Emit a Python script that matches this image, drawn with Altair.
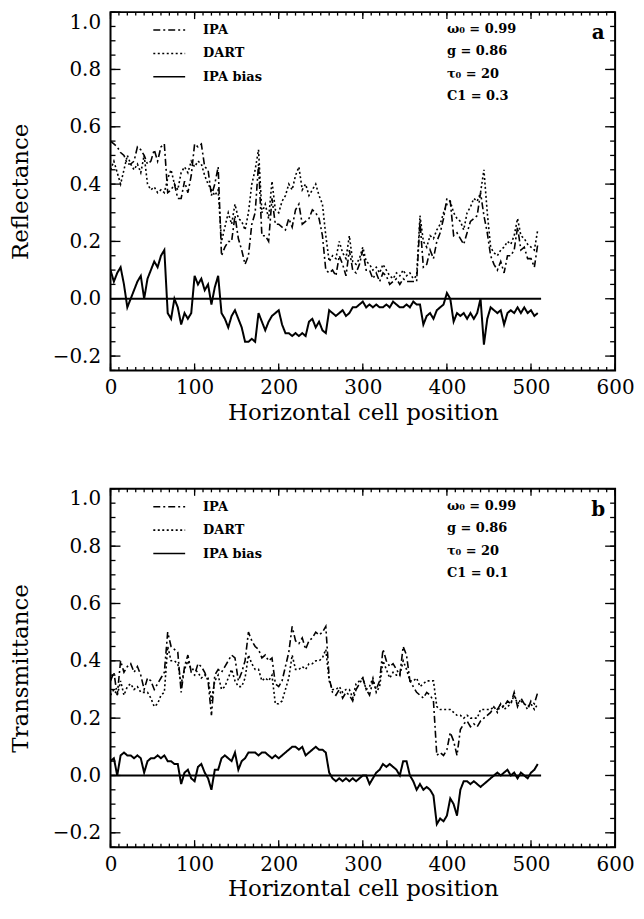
import altair as alt
import pandas as pd

# ---------------- data (every 4th cell) ----------------
CELLS = list(range(0, 512, 4))

REFL_IPA = [
    0.55, 0.54, 0.53, 0.51, 0.50, 0.47, 0.47, 0.48, 0.53, 0.52, 0.50, 0.47, 0.48, 0.52, 0.48, 0.53,
    0.54, 0.37, 0.38, 0.40, 0.35, 0.35, 0.41, 0.37, 0.43, 0.54, 0.53, 0.54, 0.46, 0.45, 0.36, 0.40,
    0.46, 0.15, 0.18, 0.20, 0.20, 0.29, 0.21, 0.17, 0.12, 0.15, 0.26, 0.30, 0.47, 0.22, 0.22, 0.20,
    0.35, 0.26, 0.26, 0.25, 0.24, 0.28, 0.25, 0.31, 0.33, 0.26, 0.27, 0.28, 0.31, 0.30, 0.28, 0.22,
    0.10, 0.09, 0.10, 0.08, 0.15, 0.12, 0.08, 0.17, 0.10, 0.09, 0.12, 0.17, 0.10, 0.10, 0.07, 0.09,
    0.06, 0.09, 0.08, 0.05, 0.06, 0.07, 0.05, 0.07, 0.06, 0.06, 0.06, 0.06, 0.27, 0.11, 0.12, 0.17,
    0.14, 0.20, 0.23, 0.28, 0.35, 0.34, 0.22, 0.23, 0.21, 0.19, 0.23, 0.27, 0.28, 0.29, 0.37, 0.29,
    0.23, 0.15, 0.12, 0.10, 0.13, 0.09, 0.15, 0.15, 0.17, 0.25, 0.17, 0.18, 0.14, 0.14, 0.11, 0.19,
]
REFL_DART = [
    0.45, 0.48, 0.44, 0.40, 0.45, 0.50, 0.47, 0.45, 0.47, 0.44, 0.50, 0.40, 0.38, 0.39, 0.37, 0.38,
    0.37, 0.42, 0.45, 0.40, 0.38, 0.44, 0.46, 0.44, 0.48, 0.46, 0.48, 0.47, 0.43, 0.40, 0.38, 0.36,
    0.38, 0.20, 0.25, 0.30, 0.26, 0.33, 0.28, 0.27, 0.24, 0.30, 0.40, 0.45, 0.52, 0.30, 0.33, 0.28,
    0.41, 0.31, 0.30, 0.34, 0.36, 0.40, 0.38, 0.43, 0.46, 0.38, 0.40, 0.36, 0.38, 0.40, 0.36, 0.33,
    0.22, 0.13, 0.15, 0.14, 0.20, 0.16, 0.14, 0.22, 0.13, 0.12, 0.14, 0.18, 0.13, 0.12, 0.10, 0.11,
    0.09, 0.12, 0.10, 0.08, 0.07, 0.09, 0.08, 0.10, 0.08, 0.09, 0.07, 0.08, 0.29, 0.20, 0.18, 0.22,
    0.21, 0.24, 0.26, 0.30, 0.33, 0.34, 0.30, 0.28, 0.27, 0.24, 0.30, 0.32, 0.35, 0.34, 0.37, 0.45,
    0.30, 0.18, 0.16, 0.15, 0.17, 0.18, 0.20, 0.19, 0.22, 0.28, 0.22, 0.21, 0.19, 0.18, 0.17, 0.24,
]
REFL_BIAS = [
    0.10, 0.06, 0.09, 0.11, 0.05, -0.03, 0.00, 0.03, 0.06, 0.08, 0.00, 0.07, 0.10, 0.13, 0.11, 0.15,
    0.17, -0.05, -0.07, 0.00, -0.03, -0.09, -0.05, -0.07, -0.05, 0.08, 0.05, 0.07, 0.03, 0.05, -0.02, 0.04,
    0.08, -0.05, -0.07, -0.10, -0.06, -0.04, -0.07, -0.10, -0.15, -0.15, -0.14, -0.15, -0.05, -0.08, -0.11, -0.08,
    -0.06, -0.05, -0.04, -0.09, -0.12, -0.12, -0.13, -0.12, -0.13, -0.12, -0.13, -0.08, -0.07, -0.10, -0.08, -0.11,
    -0.12, -0.04, -0.05, -0.06, -0.05, -0.04, -0.06, -0.05, -0.03, -0.03, -0.02, -0.01, -0.03, -0.02, -0.03, -0.02,
    -0.03, -0.03, -0.02, -0.03, -0.01, -0.02, -0.03, -0.03, -0.02, -0.03, -0.01, -0.02, -0.02, -0.09, -0.06, -0.05,
    -0.07, -0.04, -0.03, -0.02, 0.02, 0.00, -0.08, -0.05, -0.06, -0.05, -0.07, -0.05, -0.07, -0.05, 0.00, -0.16,
    -0.07, -0.03, -0.04, -0.05, -0.04, -0.09, -0.05, -0.04, -0.05, -0.03, -0.05, -0.03, -0.05, -0.04, -0.06, -0.05,
]

TRAN_IPA = [
    0.33, 0.36, 0.28, 0.40, 0.36, 0.38, 0.39, 0.36, 0.38, 0.35, 0.30, 0.34, 0.33, 0.30, 0.32, 0.34,
    0.36, 0.50, 0.45, 0.44, 0.43, 0.29, 0.38, 0.42, 0.36, 0.35, 0.39, 0.38, 0.36, 0.33, 0.21, 0.35,
    0.37, 0.36, 0.38, 0.40, 0.42, 0.41, 0.33, 0.36, 0.40, 0.50, 0.47, 0.45, 0.44, 0.41, 0.42, 0.40,
    0.41, 0.32, 0.31, 0.33, 0.38, 0.43, 0.52, 0.47, 0.46, 0.48, 0.44, 0.47, 0.48, 0.50, 0.49, 0.50,
    0.52, 0.34, 0.29, 0.28, 0.30, 0.27, 0.29, 0.28, 0.26, 0.30, 0.32, 0.34, 0.30, 0.28, 0.33, 0.30,
    0.33, 0.44, 0.40, 0.38, 0.39, 0.37, 0.35, 0.45, 0.42, 0.33, 0.31, 0.29, 0.28, 0.27, 0.29, 0.28,
    0.26, 0.07, 0.08, 0.07, 0.09, 0.15, 0.12, 0.07, 0.16, 0.18, 0.19, 0.17, 0.18, 0.17, 0.19, 0.20,
    0.21, 0.22, 0.24, 0.23, 0.25, 0.24, 0.26, 0.25, 0.29, 0.24, 0.27, 0.25, 0.23, 0.26, 0.25, 0.29,
]
TRAN_DART = [
    0.28, 0.30, 0.28, 0.33, 0.28, 0.31, 0.32, 0.30, 0.31, 0.29, 0.29, 0.29, 0.27, 0.24, 0.25, 0.28,
    0.29, 0.45, 0.40, 0.40, 0.39, 0.32, 0.37, 0.40, 0.37, 0.37, 0.36, 0.34, 0.35, 0.34, 0.26, 0.33,
    0.35, 0.30, 0.31, 0.34, 0.37, 0.33, 0.31, 0.31, 0.34, 0.42, 0.39, 0.37, 0.37, 0.33, 0.34, 0.33,
    0.35, 0.25, 0.25, 0.26, 0.30, 0.34, 0.42, 0.37, 0.37, 0.38, 0.37, 0.39, 0.39, 0.40, 0.40, 0.41,
    0.44, 0.33, 0.30, 0.30, 0.31, 0.29, 0.30, 0.30, 0.27, 0.32, 0.33, 0.34, 0.30, 0.31, 0.34, 0.29,
    0.31, 0.40, 0.37, 0.34, 0.36, 0.35, 0.35, 0.40, 0.37, 0.33, 0.33, 0.34, 0.31, 0.32, 0.33, 0.33,
    0.33, 0.24, 0.23, 0.23, 0.23, 0.23, 0.22, 0.21, 0.21, 0.20, 0.21, 0.20, 0.20, 0.20, 0.23, 0.23,
    0.23, 0.23, 0.24, 0.22, 0.25, 0.23, 0.24, 0.25, 0.28, 0.25, 0.26, 0.25, 0.24, 0.25, 0.23, 0.25,
]
TRAN_BIAS = [
    0.05, 0.06, 0.00, 0.07, 0.08, 0.07, 0.07, 0.06, 0.07, 0.06, 0.01, 0.05, 0.06, 0.06, 0.07, 0.06,
    0.07, 0.05, 0.05, 0.04, 0.04, -0.03, 0.01, 0.02, -0.01, -0.02, 0.03, 0.04, 0.01, -0.01, -0.05, 0.02,
    0.02, 0.06, 0.07, 0.06, 0.05, 0.08, 0.02, 0.05, 0.06, 0.08, 0.08, 0.08, 0.07, 0.08, 0.08, 0.07,
    0.06, 0.07, 0.06, 0.07, 0.08, 0.09, 0.10, 0.10, 0.09, 0.10, 0.07, 0.08, 0.09, 0.10, 0.09, 0.09,
    0.08, 0.01, -0.01, -0.02, -0.01, -0.02, -0.01, -0.02, -0.01, -0.02, -0.01, 0.00, 0.00, -0.03, -0.01, 0.01,
    0.02, 0.04, 0.03, 0.04, 0.03, 0.02, 0.00, 0.05, 0.05, 0.00, -0.02, -0.05, -0.03, -0.05, -0.04, -0.05,
    -0.07, -0.17, -0.15, -0.16, -0.14, -0.08, -0.10, -0.14, -0.05, -0.02, -0.02, -0.03, -0.02, -0.03, -0.04, -0.03,
    -0.02, -0.01, 0.00, 0.01, 0.00, 0.01, 0.02, 0.00, 0.01, -0.01, 0.01, 0.00, -0.01, 0.01, 0.02, 0.04,
]

SERIES = ["IPA", "DART", "IPA bias"]
ZERO_LINE_END = 512

PARAMS_A = ["ω₀ = 0.99", "g = 0.86", "τ₀ = 20", "C1 = 0.3"]
PARAMS_B = ["ω₀ = 0.99", "g = 0.86", "τ₀ = 20", "C1 = 0.1"]

X_DOMAIN = [0, 600]
Y_DOMAIN = [-0.25, 1.0]
X_MAJOR = [0, 100, 200, 300, 400, 500, 600]
X_MINOR = list(range(0, 601, 10))
Y_MAJOR = [-0.2, 0.0, 0.2, 0.4, 0.6, 0.8, 1.0]
Y_MINOR = [-0.25, -0.2, -0.15, -0.1, -0.05, 0.0, 0.05, 0.1, 0.15, 0.2, 0.25, 0.3, 0.35,
           0.4, 0.45, 0.5, 0.55, 0.6, 0.65, 0.7, 0.75, 0.8, 0.85, 0.9, 0.95, 1.0]

# ---------------- styling ----------------
W, H = 507, 360
FONT = "DejaVu Serif"
LABEL_SIZE = 20
TITLE_SIZE = 23
DASH = {"IPA": [7, 3, 2, 3], "DART": [2, 2.5], "IPA bias": [1, 0]}
WIDTH = {"IPA": 1.6, "DART": 1.6, "IPA bias": 2.0}


def panel(ipa, dart, bias, ytitle, params, letter):
    n = len(CELLS)
    df = pd.DataFrame({
        "x": CELLS * 3,
        "y": ipa + dart + bias,
        "s": ["IPA"] * n + ["DART"] * n + ["IPA bias"] * n,
    })
    xs = alt.Scale(domain=X_DOMAIN, nice=False, zero=False)
    ys = alt.Scale(domain=Y_DOMAIN, nice=False, zero=False)
    xax = alt.Axis(values=X_MAJOR, format="d", ticks=False, domain=False, grid=False,
                   labelPadding=7, labelFlush=False, titlePadding=4,
                   labelFont=FONT, labelFontSize=LABEL_SIZE, labelColor="black",
                   titleFont=FONT, titleFontSize=TITLE_SIZE, titleFontWeight="normal",
                   titleColor="black")
    yax = alt.Axis(values=Y_MAJOR, format=".1f", ticks=False, domain=False, grid=False,
                   labelPadding=10, labelFlush=False, titlePadding=20,
                   labelBaseline={"condition": {"test": "datum.value >= 0.99", "value": "top"},
                                  "value": "middle"},
                   labelFont=FONT, labelFontSize=LABEL_SIZE, labelColor="black",
                   titleFont=FONT, titleFontSize=TITLE_SIZE, titleFontWeight="normal",
                   titleColor="black")
    X = alt.X("x:Q", scale=xs, axis=xax, title="Horizontal cell position")
    Y = alt.Y("y:Q", scale=ys, axis=yax, title=ytitle)

    layers = []
    for s in SERIES:
        layers.append(
            alt.Chart(df).transform_filter(alt.datum.s == s)
            .mark_line(color="black", strokeDash=DASH[s], strokeWidth=WIDTH[s], clip=True)
            .encode(x=X, y=Y, order="x:Q")
        )
    zero = pd.DataFrame({"x": [0], "x2": [ZERO_LINE_END], "y": [0.0]})
    layers.append(alt.Chart(zero).mark_rule(color="black", strokeWidth=2)
                  .encode(x=X, x2="x2:Q", y=Y))

    # inward ticks on all four sides
    xmaj = pd.DataFrame({"x": X_MAJOR})
    xmin = pd.DataFrame({"x": X_MINOR})
    ymaj = pd.DataFrame({"y": Y_MAJOR})
    ymin = pd.DataFrame({"y": Y_MINOR})
    for d, ln in ((xmaj, 7), (xmin, 3.5)):
        layers.append(alt.Chart(d).mark_rule(color="black", strokeWidth=1.3)
                      .encode(x=X, y=alt.value(H), y2=alt.value(H - ln)))
        layers.append(alt.Chart(d).mark_rule(color="black", strokeWidth=1.3)
                      .encode(x=X, y=alt.value(0), y2=alt.value(ln)))
    for d, ln in ((ymaj, 10), (ymin, 5)):
        layers.append(alt.Chart(d).mark_rule(color="black", strokeWidth=1.3)
                      .encode(y=Y, x=alt.value(0), x2=alt.value(ln)))
        layers.append(alt.Chart(d).mark_rule(color="black", strokeWidth=1.3)
                      .encode(y=Y, x=alt.value(W), x2=alt.value(W - ln)))

    # hand-drawn legend (top-left)
    for i, s in enumerate(SERIES):
        ypos = 18 + 23.5 * i
        lab = alt.Data(values=[{"label": s}])
        layers.append(alt.Chart(lab).mark_rule(color="black", strokeDash=DASH[s], strokeWidth=1.6)
                      .encode(x=alt.value(43), x2=alt.value(75), y=alt.value(ypos)))
        layers.append(alt.Chart(lab).mark_text(font=FONT, fontSize=13, fontWeight="bold",
                                               align="left", baseline="middle", color="black")
                      .encode(text="label:N", x=alt.value(93), y=alt.value(ypos)))

    # parameter block (top-right)
    for i, p in enumerate(params):
        lab = alt.Data(values=[{"label": p}])
        layers.append(alt.Chart(lab).mark_text(font=FONT, fontSize=13, fontWeight="bold",
                                               align="left", baseline="middle", color="black")
                      .encode(text="label:N", x=alt.value(338), y=alt.value(17 + 22.5 * i)))
    lab = alt.Data(values=[{"label": letter}])
    layers.append(alt.Chart(lab).mark_text(font=FONT, fontSize=20, fontWeight="bold",
                                           align="center", baseline="middle", color="black")
                  .encode(text="label:N", x=alt.value(W - 17), y=alt.value(21)))

    return alt.layer(*layers).properties(width=W, height=H)


top = panel(REFL_IPA, REFL_DART, REFL_BIAS, "Reflectance", PARAMS_A, "a")
bottom = panel(TRAN_IPA, TRAN_DART, TRAN_BIAS, "Transmittance", PARAMS_B, "b")

chart = (
    alt.vconcat(top, bottom, spacing=62,
                padding={"left": 0, "top": 0, "right": 0, "bottom": 0})
    .configure(background="white")
    .configure_view(stroke="black", strokeWidth=2)
)

chart.save("out.html", embed_options={"renderer": "svg", "actions": False})
